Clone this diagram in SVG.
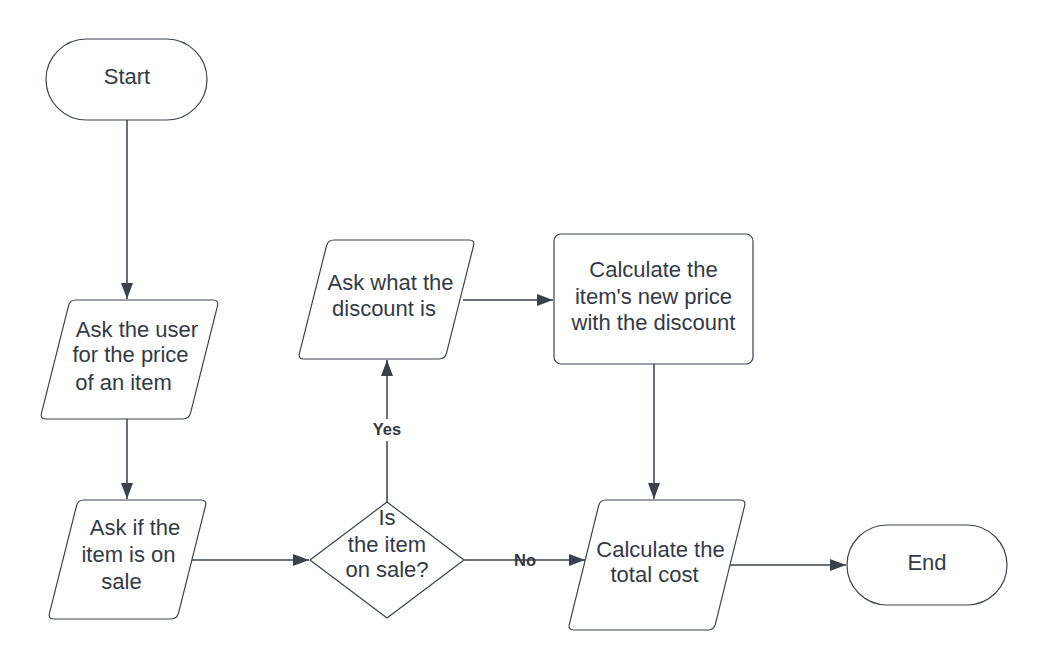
<svg xmlns="http://www.w3.org/2000/svg" width="1048" height="671" viewBox="0 0 1048 671">
<defs>
<marker id="arr" markerUnits="userSpaceOnUse" markerWidth="18" markerHeight="14" refX="16" refY="6" orient="auto">
<path d="M0,0 L16,6 L0,12 Z" fill="#3a414a"/>
</marker>
<style>
.shape{fill:#ffffff;stroke:#3d434c;stroke-width:1.2;stroke-linejoin:round}
.t{font-family:"Liberation Sans",Arial,sans-serif;font-size:22px;fill:#333a45;text-anchor:middle}
.lbl{font-family:"Liberation Sans",Arial,sans-serif;font-size:16.5px;font-weight:bold;fill:#333a45;text-anchor:middle;dominant-baseline:central}
.c{fill:none;stroke:#3a414a;stroke-width:1.5;marker-end:url(#arr)}
.c2{fill:none;stroke:#3a414a;stroke-width:1.5}
</style>
</defs>
<rect width="1048" height="671" fill="#ffffff"/>
<g id="connectors">
<path class="c" d="M127,120 L127,299"/>
<path class="c" d="M127,419 L127,499"/>
<path class="c" d="M192,560 L309,560"/>
<path class="c" d="M387,502 L387,360"/>
<rect x="372" y="419" width="30" height="22" fill="#ffffff"/>
<path class="c" d="M464,560 L585,560"/>
<path class="c" d="M463,300 L553,300"/>
<path class="c" d="M654,364 L654,499"/>
<path class="c" d="M730,565 L846,565"/>
<text class="lbl" x="387" y="429">Yes</text>
<text class="lbl" x="525" y="560">No</text>
</g>
<g id="start">
<rect class="shape" x="46" y="39" width="161" height="81" rx="40.5"/>
<text class="t" x="127" y="84">Start</text>
</g>
<g id="ask-price">
<path class="shape" d="M76,300 L213,300 Q219,300 217.5,305.8 L190.5,413.2 Q189,419 183,419 L46,419 Q40,419 41.5,413.2 L68.5,305.8 Q70,300 76,300 Z"/>
<text class="t" x="137" y="337">Ask the user</text>
<text class="t" x="130.5" y="362">for the price</text>
<text class="t" x="123.5" y="390">of an item</text>
</g>
<g id="ask-sale">
<path class="shape" d="M84,500 L201,500 Q207,500 205.5,505.8 L178.5,613.2 Q177,619 171,619 L54,619 Q48,619 49.5,613.2 L76.5,505.8 Q78,500 84,500 Z"/>
<text class="t" x="135" y="535">Ask if the</text>
<text class="t" x="128.5" y="562">item is on</text>
<text class="t" x="121.5" y="589">sale</text>
</g>
<g id="decision">
<polygon class="shape" points="310,560 387,502 464,560 387,618"/>
<text class="t" x="387" y="525">Is</text>
<text class="t" x="387" y="552">the item</text>
<text class="t" x="387" y="577">on sale?</text>
</g>
<g id="ask-discount">
<path class="shape" d="M334,240 L469,240 Q475,240 473.5,245.8 L446.5,353.2 Q445,359 439,359 L304,359 Q298,359 299.5,353.2 L326.5,245.8 Q328,240 334,240 Z"/>
<text class="t" x="390.5" y="290">Ask what the</text>
<text class="t" x="384" y="316">discount is</text>
</g>
<g id="calc-new-price">
<rect class="shape" x="554" y="234" width="199" height="130" rx="7"/>
<text class="t" x="653.5" y="277">Calculate the</text>
<text class="t" x="653.5" y="304">item's new price</text>
<text class="t" x="653.5" y="330">with the discount</text>
</g>
<g id="calc-total">
<path class="shape" d="M606,500 L740,500 Q746,500 744.6,505.8 L715.4,624.2 Q714,630 708,630 L574,630 Q568,630 569.4,624.2 L598.6,505.8 Q600,500 606,500 Z"/>
<text class="t" x="660.5" y="557">Calculate the</text>
<text class="t" x="654.5" y="582">total cost</text>
</g>
<g id="end">
<rect class="shape" x="847" y="525" width="160" height="80" rx="40"/>
<text class="t" x="927" y="570">End</text>
</g>
</svg>
